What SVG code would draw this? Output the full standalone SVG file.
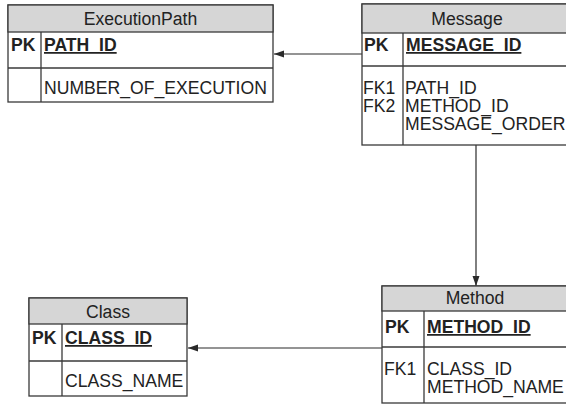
<svg xmlns="http://www.w3.org/2000/svg" width="566" height="405" viewBox="0 0 566 405">
  <defs>
    <style>
      .box { fill: #ffffff; stroke: #3a3a3a; stroke-width: 1.3; }
      .head { fill: #d6d6d6; stroke: #3a3a3a; stroke-width: 1.3; }
      .sep { stroke: #3a3a3a; stroke-width: 1.3; fill: none; }
      text { font-family: "Liberation Sans", Arial, sans-serif; font-size: 17.6px; fill: #222222; }
      .title { text-anchor: middle; }
      .key { font-weight: bold; }
      .pk { font-weight: bold; text-decoration: underline; }
      .conn { stroke: #2a2a2a; stroke-width: 1.2; fill: none; marker-end: url(#arrow); }
    </style>
    <marker id="arrow" viewBox="0 0 10 10" refX="10" refY="5" markerWidth="10" markerHeight="10" markerUnits="userSpaceOnUse" orient="auto">
      <path d="M0,1.5 L10,5 L0,8.5 Z" fill="#2a2a2a"/>
    </marker>
  </defs>

  <rect width="566" height="405" fill="#ffffff"/>

  <!-- relationships -->
  <g id="connectors">
    <line class="conn" x1="362" y1="54" x2="274" y2="54"/>
    <line class="conn" x1="476" y1="145" x2="476" y2="286"/>
    <line class="conn" x1="382" y1="348" x2="188" y2="348"/>
  </g>

  <g id="ExecutionPath">
    <rect class="box" x="8" y="5" width="265" height="97"/>
    <rect class="head" x="8" y="5" width="265" height="27"/>
    <line class="sep" x1="8" y1="68" x2="273" y2="68"/>
    <line class="sep" x1="41" y1="32" x2="41" y2="102"/>
    <text class="title" x="140.5" y="25">ExecutionPath</text>
    <text class="key" x="11" y="51">PK</text>
    <text class="pk" x="44" y="51">PATH_ID</text>
    <text x="44" y="94">NUMBER_OF_EXECUTION</text>
  </g>

  <g id="Message">
    <rect class="box" x="362" y="4" width="210" height="141"/>
    <rect class="head" x="362" y="4" width="210" height="29"/>
    <line class="sep" x1="362" y1="66" x2="572" y2="66"/>
    <line class="sep" x1="403" y1="33" x2="403" y2="145"/>
    <text class="title" x="467" y="25">Message</text>
    <text class="key" x="364" y="51">PK</text>
    <text class="pk" x="406" y="51">MESSAGE_ID</text>
    <text x="363" y="94">FK1</text>
    <text x="363" y="112">FK2</text>
    <text x="405" y="94">PATH_ID</text>
    <text x="405" y="112">METHOD_ID</text>
    <text x="405" y="130">MESSAGE_ORDER</text>
  </g>

  <g id="Method">
    <rect class="box" x="382" y="286" width="186" height="117"/>
    <rect class="head" x="382" y="286" width="186" height="25"/>
    <line class="sep" x1="382" y1="347" x2="568" y2="347"/>
    <line class="sep" x1="424" y1="311" x2="424" y2="403"/>
    <text class="title" x="475" y="304">Method</text>
    <text class="key" x="385" y="333">PK</text>
    <text class="pk" x="427" y="333">METHOD_ID</text>
    <text x="384" y="375">FK1</text>
    <text x="427" y="375">CLASS_ID</text>
    <text x="427" y="393">METHOD_NAME</text>
  </g>

  <g id="Class">
    <rect class="box" x="29" y="298" width="158" height="98"/>
    <rect class="head" x="29" y="298" width="158" height="26"/>
    <line class="sep" x1="29" y1="361" x2="187" y2="361"/>
    <line class="sep" x1="62" y1="324" x2="62" y2="396"/>
    <text class="title" x="108" y="318">Class</text>
    <text class="key" x="32" y="344">PK</text>
    <text class="pk" x="65" y="344">CLASS_ID</text>
    <text x="65" y="387">CLASS_NAME</text>
  </g>
</svg>
